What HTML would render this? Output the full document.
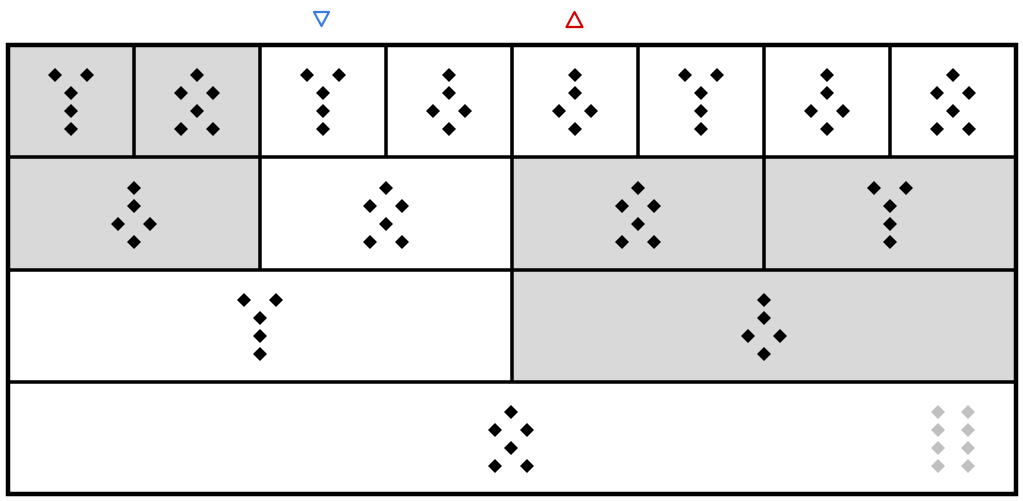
<!DOCTYPE html>
<html><head><meta charset="utf-8"><style>html,body{margin:0;padding:0;background:#fff}svg{display:block}</style></head>
<body>
<svg width="1023" height="501" viewBox="0 0 1023 501" xmlns="http://www.w3.org/2000/svg">
<defs>
<path id="d" d="M0,-7 L7,0 L0,7 L-7,0Z" fill="#000"/>
<path id="g" d="M0,-7 L7,0 L0,7 L-7,0Z" fill="#c0c0c0"/>
<g id="Y"><use href="#d" x="-16" y="0"/><use href="#d" x="16" y="0"/><use href="#d" x="0" y="18"/><use href="#d" x="0" y="36"/><use href="#d" x="0" y="54"/></g>
<g id="X"><use href="#d" x="0" y="0"/><use href="#d" x="-16" y="18"/><use href="#d" x="16" y="18"/><use href="#d" x="0" y="36"/><use href="#d" x="-16" y="54"/><use href="#d" x="16" y="54"/></g>
<g id="K"><use href="#d" x="0" y="0"/><use href="#d" x="0" y="18"/><use href="#d" x="-16" y="36"/><use href="#d" x="16" y="36"/><use href="#d" x="0" y="54"/></g>
</defs>
<rect x="8" y="45" width="252" height="112" fill="#d9d9d9"/>
<rect x="8" y="157" width="252" height="113" fill="#d9d9d9"/>
<rect x="512" y="157" width="504" height="113" fill="#d9d9d9"/>
<rect x="512" y="270" width="504" height="112" fill="#d9d9d9"/>
<g stroke="#000" stroke-width="3.5">
<line x1="8" y1="157" x2="1016" y2="157"/>
<line x1="8" y1="270" x2="1016" y2="270"/>
<line x1="8" y1="382" x2="1016" y2="382"/>
<line x1="134" y1="45" x2="134" y2="157"/>
<line x1="260" y1="45" x2="260" y2="270"/>
<line x1="386" y1="45" x2="386" y2="157"/>
<line x1="512" y1="45" x2="512" y2="382"/>
<line x1="638" y1="45" x2="638" y2="157"/>
<line x1="764" y1="45" x2="764" y2="270"/>
<line x1="890" y1="45" x2="890" y2="157"/>
</g>
<rect x="8" y="45" width="1008" height="449" fill="none" stroke="#000" stroke-width="4.5"/>
<use href="#Y" x="71" y="75"/>
<use href="#X" x="197" y="75"/>
<use href="#Y" x="323" y="75"/>
<use href="#K" x="449" y="75"/>
<use href="#K" x="575" y="75"/>
<use href="#Y" x="701" y="75"/>
<use href="#K" x="827" y="75"/>
<use href="#X" x="953" y="75"/>
<use href="#K" x="134" y="188"/>
<use href="#X" x="386" y="188"/>
<use href="#X" x="638" y="188"/>
<use href="#Y" x="890" y="188"/>
<use href="#Y" x="260" y="300"/>
<use href="#K" x="764" y="300"/>
<use href="#X" x="511" y="412"/>
<g>
<use href="#g" x="938" y="412"/><use href="#g" x="968" y="412"/>
<use href="#g" x="938" y="430"/><use href="#g" x="968" y="430"/>
<use href="#g" x="938" y="448"/><use href="#g" x="968" y="448"/>
<use href="#g" x="938" y="466"/><use href="#g" x="968" y="466"/>
</g>
<polygon points="314,12 329,12 321.5,26" fill="none" stroke="#3b7ddd" stroke-width="2.2" stroke-linejoin="round"/>
<polygon points="566.5,27 582.5,27 574.5,12" fill="none" stroke="#d40000" stroke-width="2.2" stroke-linejoin="round"/>
</svg>
</body></html>
